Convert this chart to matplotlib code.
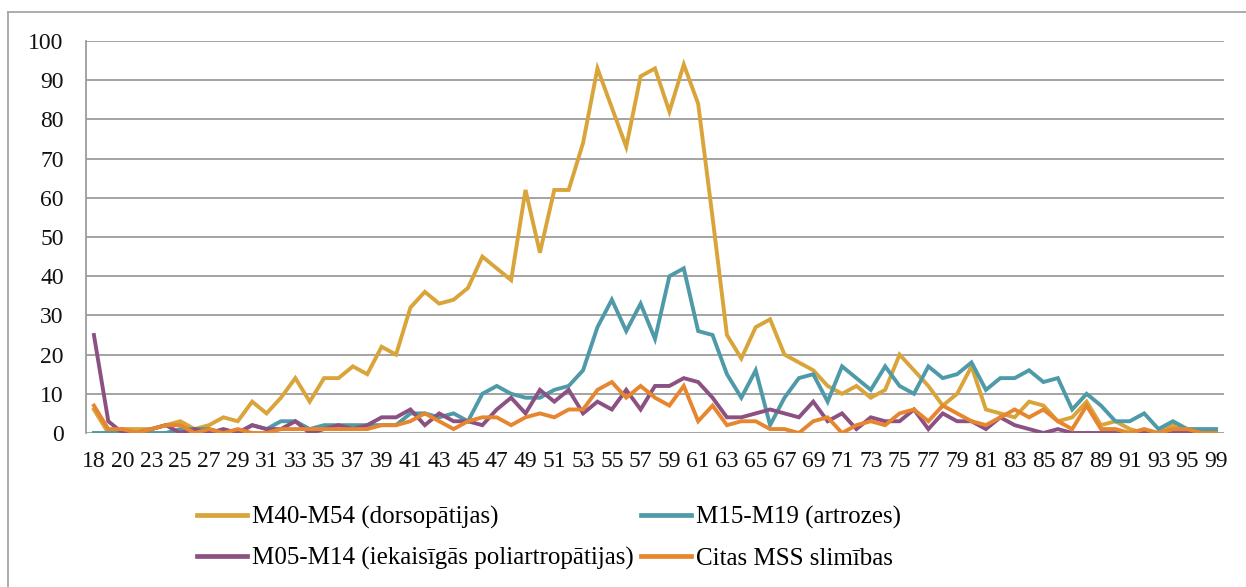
import matplotlib
matplotlib.use("Agg")
import matplotlib.pyplot as plt
from matplotlib.lines import Line2D

plt.rcParams['font.family'] = ['Liberation Serif', 'DejaVu Serif']

ages = [18, 19, 20, 22, 23, 24, 25, 26, 27, 28, 29, 30, 31, 32, 33, 34, 35, 36, 37, 38,
        39, 40, 41, 42, 43, 44, 45, 46, 47, 48, 49, 50, 51, 52, 53, 54, 55, 56, 57, 58,
        59, 60, 61, 62, 63, 64, 65, 66, 67, 68, 69, 70, 71, 72, 73, 74, 75, 76, 77, 78,
        79, 80, 81, 82, 83, 84, 85, 86, 87, 88, 89, 90, 91, 92, 93, 94, 95, 96, 99]

dorso = [6, 0, 1, 1, 1, 2, 3, 1, 2, 4, 3, 8, 5, 9, 14, 8, 14, 14, 17, 15,
         22, 20, 32, 36, 33, 34, 37, 45, 42, 39, 62, 46, 62, 62, 74, 93, 83, 73, 91, 93,
         82, 94, 84, 55, 25, 19, 27, 29, 20, 18, 16, 12, 10, 12, 9, 11, 20, 16, 12, 7,
         10, 17, 6, 5, 4, 8, 7, 3, 4, 8, 2, 3, 1, 0, 0, 2, 1, 0, 0]

artr = [0, 0, 0, 0, 0, 0, 1, 1, 1, 0, 0, 2, 1, 3, 3, 1, 2, 2, 2, 2,
        2, 2, 5, 5, 4, 5, 3, 10, 12, 10, 9, 9, 11, 12, 16, 27, 34, 26, 33, 24,
        40, 42, 26, 25, 15, 9, 16, 2, 9, 14, 15, 8, 17, 14, 11, 17, 12, 10, 17, 14,
        15, 18, 11, 14, 14, 16, 13, 14, 6, 10, 7, 3, 3, 5, 1, 3, 1, 1, 1]

poli = [25, 3, 0, 0, 1, 2, 0, 1, 0, 1, 0, 2, 1, 1, 3, 0, 1, 2, 1, 2,
        4, 4, 6, 2, 5, 3, 3, 2, 6, 9, 5, 11, 8, 11, 5, 8, 6, 11, 6, 12,
        12, 14, 13, 9, 4, 4, 5, 6, 5, 4, 8, 3, 5, 1, 4, 3, 3, 6, 1, 5,
        3, 3, 1, 4, 2, 1, 0, 1, 0, 0, 0, 0, 0, 0, 0, 0, 0, 0, 0]

citas = [7, 1, 1, 0, 1, 2, 2, 0, 1, 0, 1, 0, 0, 1, 1, 1, 1, 1, 1, 1,
         2, 2, 3, 5, 3, 1, 3, 4, 4, 2, 4, 5, 4, 6, 6, 11, 13, 9, 12, 9,
         7, 12, 3, 7, 2, 3, 3, 1, 1, 0, 3, 4, 0, 2, 3, 2, 5, 6, 3, 7,
         5, 3, 2, 4, 6, 4, 6, 3, 1, 7, 1, 1, 0, 1, 0, 1, 1, 0, 0]

series = [
    ("M40-M54 (dorsopātijas)", dorso, "#D9A43A"),
    ("M15-M19 (artrozes)", artr, "#4F9AA8"),
    ("M05-M14 (iekaisīgās poliartropātijas)", poli, "#8B5183"),
    ("Citas MSS slimības", citas, "#E6862F"),
]

fig = plt.figure(figsize=(12.46, 5.87), dpi=100)
ax = fig.add_axes([86 / 1246, 1 - 433 / 587, (1224 - 86) / 1246, (433 - 41) / 587])

x = list(range(len(ages)))
for name, vals, col in series:
    ax.plot(x, vals, color=col, lw=2.8, solid_joinstyle="miter")

ax.set_xlim(-0.55, len(ages) - 0.45)
ax.set_ylim(0, 100)
ax.set_yticks(range(0, 101, 10))
ax.set_xticks(x[::2])
ax.set_xticklabels([str(a) for a in ages[::2]])
ax.grid(axis="y", color="#9C9C9C", lw=1.3)
ax.set_axisbelow(True)
for s in ["top", "right", "bottom"]:
    ax.spines[s].set_visible(False)
ax.spines["left"].set_color("#9C9C9C")
ax.spines["left"].set_linewidth(1.3)
ax.tick_params(axis="both", length=0, labelsize=17, colors="#111111")
ax.tick_params(axis="y", pad=16)
ax.tick_params(axis="x", pad=13)

# legend, column-major: yellow, purple | teal, orange
order = [0, 2, 1, 3]
handles = [Line2D([], [], color=series[i][2], lw=3.4) for i in order]
labels = [series[i][0] for i in order]
fig.legend(handles, labels, ncol=2, loc="upper left", bbox_to_anchor=(197 / 1246, 1 - 506 / 587),
           frameon=False, fontsize=18, handlelength=2.0, handletextpad=0.2,
           columnspacing=0.3, labelspacing=0.72, borderaxespad=0, borderpad=0)

# outer chart border (left and top edges visible)
fig.add_artist(Line2D([8 / 1246, 8 / 1246], [0, 1 - 12 / 587], color="#A6A6A6", lw=1.3))
fig.add_artist(Line2D([8 / 1246, 1], [1 - 12 / 587, 1 - 12 / 587], color="#A6A6A6", lw=1.3))

fig.savefig("out.png", dpi=100)
